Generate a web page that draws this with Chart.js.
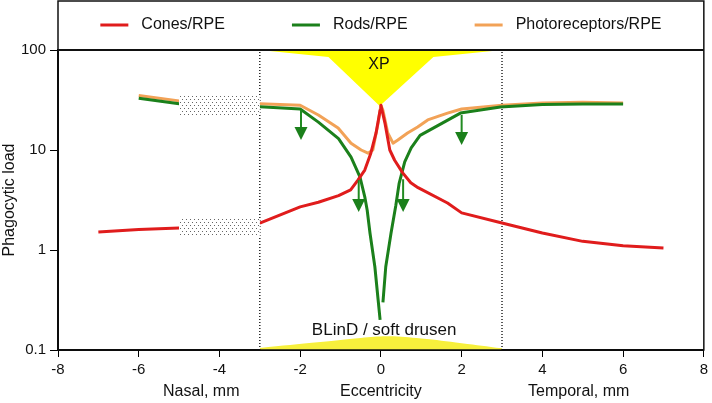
<!DOCTYPE html>
<html>
<head>
<meta charset="utf-8">
<script src="https://cdn.jsdelivr.net/npm/chart.js@4"></script>
<style>
  body { margin: 0; background: #fff; }
  canvas { display: block; }
</style>
</head>
<body>
<canvas id="loadChart" width="712" height="403"></canvas>
<script>
//data
const conesX = [-7, -6, -5, -4, -3, -2, -1.55, -1.05, -0.75, -0.57, -0.4, -0.25, -0.12, -0.02, 0, 0.1, 0.22, 0.34, 0.54, 0.74, 0.92, 1.65, 2, 3, 4, 5, 6, 7];
const conesY = [1.51, 1.6, 1.66, null, 1.86, 2.7, 3.0, 3.5, 4.0, 5.0, 6.3, 9.3, 14.8, 25, 28, 18.6, 10, 7.9, 5.9, 4.7, 4.2, 2.95, 2.35, 1.86, 1.48, 1.22, 1.1, 1.05];

const rodsX = [-6, -5, -4, -3, -2, -1.55, -1.05, -0.74, -0.52, -0.4, -0.34, -0.27, -0.15, -0.07, -0.02, 0.015, 0.05, 0.12, 0.25, 0.37, 0.45, 0.59, 0.75, 0.97, 1.97, 2.96, 4, 5, 6];
const rodsY = [33, 29, null, 27, 25.7, 19, 13, 8.5, 5.4, 3.4, 2.5, 1.47, 0.68, 0.32, 0.2, null, 0.3, 0.68, 1.47, 2.8, 4.6, 7.6, 10.5, 14, 23.4, 26.9, 28.5, 28.8, 28.8];

const photoX = [-6, -5, -4, -3, -2, -1.55, -1.06, -0.74, -0.49, -0.32, -0.2, -0.07, 0, 0.05, 0.17, 0.3, 0.42, 0.66, 0.91, 1.16, 1.65, 2, 3, 4, 5, 6];
const photoY = [35, 31, null, 29, 28, 22.4, 16.6, 11.7, 10, 9.3, 10, 18.6, 28, 25, 14.8, 11.7, 12.6, 14.8, 17, 20, 23.4, 25.7, 28, 29.5, 30, 29.5];

// XP wedge (top) and BLinD / soft drusen hump (bottom)
const xpX = [-3, -1.3, -0.03, 1.3, 3];
const xpY = [100, 85, 27.5, 85, 100];
const drusenX = [-3, -1.5, -0.5, 0.2, 1, 2, 3];
const drusenY = [0.105, 0.12, 0.132, 0.137, 0.13, 0.117, 0.104];

const zoneEdges = [-3, 3];
const yAxisTicks = [0.1, 1, 10, 100];

// arrows: x, start value, tip value
const arrowsX = [-1.98, -0.55, 0.55, 2.0];
const arrowsFrom = [25, 5.0, 5.1, 22.4];
const arrowsTo = [12.6, 2.4, 2.4, 11.2];

// stippled boxes: x range, y range
const boxesX = [[-5, -3], [-5, -3]];
const boxesY = [[22.4, 35.5], [1.35, 2.09]];

const FONT = "'Liberation Sans', Arial, Helvetica, sans-serif";
const RED = '#e01c1c';
const GREEN = '#1b801b';
const ORANGE = '#f2a257';

function pts(xs, ys) {
    return xs.map((x, i) => ({ x: x, y: ys[i] }));
}

function makeStipple() {
    const c = document.createElement('canvas');
    c.width = 4;
    c.height = 6;
    const g = c.getContext('2d');
    g.fillStyle = '#fff';
    g.fillRect(0, 0, 4, 6);
    g.fillStyle = '#666';
    g.fillRect(0, 0, 1, 1);
    g.fillRect(2, 3, 1, 1);
    return c;
}

const extras = {
    id: 'extras',
    afterDatasetsDraw(chart) {
        const ctx = chart.ctx;
        const xs = chart.scales.x;
        const ys = chart.scales.y;
        ctx.save();

        //stippled boxes
        ctx.fillStyle = ctx.createPattern(makeStipple(), 'repeat');
        boxesX.forEach((bx, i) => {
            const x0 = xs.getPixelForValue(bx[0]);
            const x1 = xs.getPixelForValue(bx[1]);
            const y0 = ys.getPixelForValue(boxesY[i][1]);
            const y1 = ys.getPixelForValue(boxesY[i][0]);
            ctx.fillRect(x0, y0, x1 - x0, y1 - y0);
        });

        //arrows
        ctx.strokeStyle = '#228b22';
        ctx.fillStyle = '#1b801b';
        ctx.lineWidth = 2;
        arrowsX.forEach((ax, i) => {
            const px = xs.getPixelForValue(ax);
            const top = ys.getPixelForValue(arrowsFrom[i]);
            const tip = ys.getPixelForValue(arrowsTo[i]);
            ctx.beginPath();
            ctx.moveTo(px, top);
            ctx.lineTo(px, tip - 10);
            ctx.stroke();
            ctx.beginPath();
            ctx.moveTo(px - 6.5, tip - 13);
            ctx.lineTo(px + 6.5, tip - 13);
            ctx.lineTo(px, tip);
            ctx.closePath();
            ctx.fill();
        });

        //labels in plot
        ctx.fillStyle = '#111';
        ctx.textAlign = 'center';
        ctx.textBaseline = 'middle';
        ctx.font = '16px ' + FONT;
        ctx.fillText('XP', xs.getPixelForValue(-0.05), chart.chartArea.top + 15);
        ctx.font = '17px ' + FONT;
        ctx.fillText('BLinD / soft drusen', xs.getPixelForValue(0.08), chart.chartArea.bottom - 20);
        ctx.restore();
    },
    afterDraw(chart) {
        const ctx = chart.ctx;
        const area = chart.chartArea;
        const xs = chart.scales.x;
        ctx.save();

        //frame
        ctx.strokeStyle = '#111';
        ctx.lineWidth = 1.5;
        ctx.strokeRect(area.left, 1, area.right - area.left, area.bottom - 1);
        ctx.lineWidth = 2;
        ctx.beginPath();
        ctx.moveTo(area.left, area.top);
        ctx.lineTo(area.right, area.top);
        ctx.stroke();

        //legend
        ctx.font = '16px ' + FONT;
        ctx.textBaseline = 'middle';
        ctx.textAlign = 'left';
        const items = chart.data.datasets.filter(d => d.legend);
        const lineW = 28, gap = 13, between = 67;
        const widths = items.map(d => ctx.measureText(d.label).width);
        let total = widths.reduce((a, w) => a + w + lineW + gap, 0) + between * (items.length - 1);
        let x = (area.left + area.right) / 2 - total / 2;
        const y = 25;
        items.forEach((d, i) => {
            ctx.strokeStyle = d.borderColor;
            ctx.lineWidth = 3;
            ctx.beginPath();
            ctx.moveTo(x, y);
            ctx.lineTo(x + lineW, y);
            ctx.stroke();
            ctx.fillStyle = '#111';
            ctx.fillText(d.label, x + lineW + gap, y);
            x += lineW + gap + widths[i] + between;
        });

        //x region labels
        ctx.textAlign = 'center';
        ctx.fillText('Nasal, mm', xs.getPixelForValue(-4.45), 392);
        ctx.fillText('Eccentricity', xs.getPixelForValue(0), 392);
        ctx.fillText('Temporal, mm', xs.getPixelForValue(4.9), 392);
        ctx.restore();
    }
};

const seriesStyle = {
    borderWidth: 3,
    pointRadius: 0,
    tension: 0,
    spanGaps: false,
    borderJoinStyle: 'round',
    fill: false
};

new Chart(document.getElementById('loadChart'), {
    type: 'line',
    data: {
        datasets: [
            { ...seriesStyle, label: 'Cones/RPE', legend: true, data: pts(conesX, conesY), borderColor: RED, order: 1 },
            { ...seriesStyle, label: 'Rods/RPE', legend: true, data: pts(rodsX, rodsY), borderColor: GREEN, order: 2 },
            { ...seriesStyle, label: 'Photoreceptors/RPE', legend: true, data: pts(photoX, photoY), borderColor: ORANGE, order: 3 },
            ...zoneEdges.map(e => ({
                label: 'edge', data: [{ x: e, y: 0.1 }, { x: e, y: 100 }],
                borderColor: '#000', borderWidth: 1.3, borderDash: [1, 2], pointRadius: 0, fill: false, order: 4
            })),
            { label: 'XP', data: pts(xpX, xpY), fill: 'end', backgroundColor: '#ffff00', borderWidth: 0, pointRadius: 0, order: 5 },
            { label: 'BLinD', data: pts(drusenX, drusenY), fill: 'start', backgroundColor: '#f7f03c', borderWidth: 0, pointRadius: 0, tension: 0.4, order: 5 }
        ]
    },
    options: {
        responsive: false,
        animation: false,
        layout: { padding: { top: 50, right: 4, left: 0, bottom: 0 } },
        plugins: {
            legend: { display: false },
            tooltip: { enabled: false }
        },
        scales: {
            x: {
                type: 'linear',
                min: -8,
                max: 8,
                ticks: { stepSize: 2, color: '#111', font: { family: FONT, size: 15 }, padding: 4, maxRotation: 0 },
                grid: { drawOnChartArea: false, tickLength: 7, color: '#000' },
                border: { color: '#000', width: 2 },
                afterFit: s => { s.height = 53; }
            },
            y: {
                type: 'logarithmic',
                min: 0.1,
                max: 100,
                afterBuildTicks: s => { s.ticks = yAxisTicks.map(v => ({ value: v })); },
                ticks: { callback: v => String(v), color: '#111', font: { family: FONT, size: 15 }, padding: 4 },
                grid: { drawOnChartArea: false, tickLength: 8, color: '#000' },
                border: { color: '#000', width: 2 },
                title: { display: true, text: 'Phagocytic load', color: '#111', font: { family: FONT, size: 16 }, padding: 0 },
                afterFit: s => { s.width = 58; }
            }
        }
    },
    plugins: [extras]
});
</script>
</body>
</html>
